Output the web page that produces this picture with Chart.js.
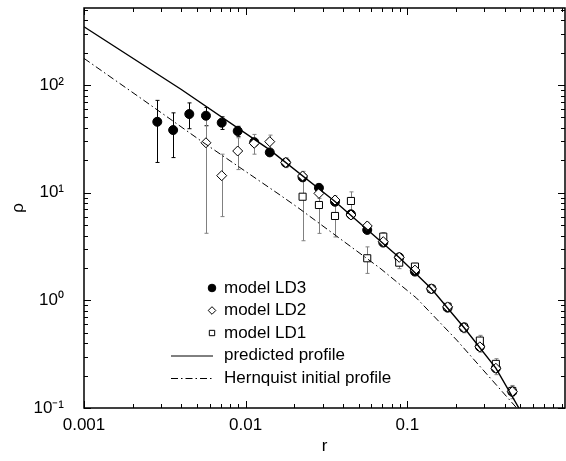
<!DOCTYPE html>
<html>
<head>
<meta charset="utf-8">
<title>rho(r) profiles</title>
<script src="https://cdn.jsdelivr.net/npm/chart.js@4.4.1/dist/chart.umd.min.js"></script>
<style>
	html, body { margin: 0; padding: 0; background: #fff; }
	#wrap { position: relative; width: 566px; height: 461px; }
</style>
</head>
<body>
<div id="wrap"><canvas id="chart"></canvas></div>
<script>
'use strict';

// values
const ld3R = [0.00284, 0.00356, 0.00448, 0.00568, 0.00711, 0.00893, 0.0113, 0.0141, 0.0177, 0.0225, 0.0284,
	0.0357, 0.0448, 0.0565, 0.0710, 0.0891, 0.1115, 0.141, 0.1775, 0.224, 0.281, 0.353, 0.446];
const ld3Rho = [45.6, 38.2, 53.8, 51.9, 44.7, 37.4, 29.5, 23.7, 19.0, 13.9, 11.1,
	8.24, 6.3, 4.51, 3.44, 2.51, 1.85, 1.28, 0.855, 0.558, 0.371, 0.234, 0.142];
const ld3Err = [26.5, 17, 14.5, 10, 6, 4, 2, 1.5, 1, 0.8, 0.6,
	0.4, 0.3, 0.2, 0.15, 0.1, 0.08, 0.05, 0.04, 0.03, 0.02, 0.015, 0.01];

const ld2R = [0.00568, 0.00711, 0.00893, 0.0113, 0.0141, 0.0177, 0.0225, 0.0284, 0.0357, 0.0448,
	0.0565, 0.0710, 0.0891, 0.1115, 0.141, 0.1775, 0.224, 0.281, 0.353, 0.446];
const ld2Rho = [29.1, 14.4, 24.4, 28.8, 29.8, 19.1, 14.3, 9.86, 8.55, 6.21,
	4.91, 3.51, 2.51, 1.91, 1.28, 0.87, 0.558, 0.37, 0.234, 0.142];
const ld2Err = [24.9, 8.4, 8, 6, 4.5, 2, 1.5, 1, 0.8, 0.5,
	0.4, 0.3, 0.2, 0.15, 0.1, 0.08, 0.05, 0.04, 0.03, 0.02];

const ld1R = [0.0225, 0.0284, 0.0357, 0.0448, 0.0565, 0.0710, 0.0891, 0.1115, 0.141, 0.1775,
	0.224, 0.281, 0.353, 0.446];
const ld1Rho = [9.18, 7.69, 6.08, 8.38, 2.46, 3.91, 2.24, 2.06, 1.28, 0.87,
	0.56, 0.423, 0.257, 0.144];
const ld1Err = [5.6, 3.5, 2.2, 1.8, 0.68, 0.35, 0.27, 0.15, 0.1, 0.08,
	0.06, 0.05, 0.03, 0.015];

const predictedR = [0.001, 0.004, 0.0141, 0.0357, 0.0891, 0.141, 0.224, 0.353, 0.49];
const predictedRho = [348, 91, 25, 8.3, 2.5, 1.28, 0.56, 0.235, 0.1];

const hernquistR = [0.001, 0.00233, 0.00521, 0.0163, 0.0207, 0.0678, 0.114, 0.202, 0.475];
const hernquistRho = [177, 72.6, 30.8, 9.53, 7.41, 1.99, 1.05, 0.428, 0.1];

const xTickLabels = {'-3': '0.001', '-2': '0.01', '-1': '0.1'};
const yTickLabels = {'-1': '10\u207B\u00B9', '0': '10\u2070', '1': '10\u00B9', '2': '10\u00B2'};

const FONT = '"Liberation Sans", Arial, Helvetica, sans-serif';
const ERR_GREY = '#808080';

const toPoints = function(xs, ys) {
	return xs.map((x, i) => ({x: x, y: ys[i]}));
};

// returns mantissa digit (1..9) for values like 3e-2, or 0 otherwise
const logDigit = function(v) {
	const e = Math.floor(Math.log10(v) + 1e-9);
	const m = v / Math.pow(10, e);
	const d = Math.round(m);
	return Math.abs(m - d) < 1e-6 && d >= 1 && d <= 9 ? d : 0;
};

// pin the plot box to where the reference has it
const fixArea = {
	id: 'fixArea',
	afterLayout(chart) {
		const a = chart.chartArea;
		const x = chart.scales.x;
		const y = chart.scales.y;
		a.left = 84;
		a.right = chart.width - 1;
		a.top = 8;
		a.bottom = 408;
		a.width = a.right - a.left;
		a.height = a.bottom - a.top;
		x.left = a.left;
		x.right = a.right;
		x.width = a.width;
		x.top = a.bottom;
		x.bottom = chart.height;
		x.height = x.bottom - x.top;
		y.top = a.top;
		y.bottom = a.bottom;
		y.height = a.height;
		y.left = 0;
		y.right = a.left;
		y.width = a.left;
		x.configure();
		y.configure();
	}
};

const errorBars = {
	id: 'errorBars',
	beforeDatasetsDraw(chart) {
		const ctx = chart.ctx;
		const yScale = chart.scales.y;
		const area = chart.chartArea;
		ctx.save();
		chart.data.datasets.forEach((ds, di) => {
			if (!ds.errors) {
				return;
			}
			const meta = chart.getDatasetMeta(di);
			ctx.strokeStyle = ds.errorColor;
			ctx.lineWidth = 1;
			meta.data.forEach((pt, i) => {
				const v = ds.data[i].y;
				const e = ds.errors[i];
				const yTop = Math.max(yScale.getPixelForValue(v + e), area.top);
				const yBot = v - e > 0 ? Math.min(yScale.getPixelForValue(v - e), area.bottom) : area.bottom;
				const x = Math.round(pt.x) + 0.5;
				ctx.beginPath();
				ctx.moveTo(x, yTop);
				ctx.lineTo(x, yBot);
				ctx.moveTo(x - 2, yTop);
				ctx.lineTo(x + 2, yTop);
				ctx.moveTo(x - 2, yBot);
				ctx.lineTo(x + 2, yBot);
				ctx.stroke();
			});
		});
		ctx.restore();
	}
};

const frameAndTicks = {
	id: 'frameAndTicks',
	afterDraw(chart) {
		const ctx = chart.ctx;
		const a = chart.chartArea;
		ctx.save();
		ctx.strokeStyle = '#000';
		ctx.lineWidth = 1;
		ctx.beginPath();
		chart.scales.x.ticks.forEach(t => {
			const d = logDigit(t.value);
			if (!d) {
				return;
			}
			const len = d === 1 ? 7 : 4;
			const x = Math.round(chart.scales.x.getPixelForValue(t.value)) + 0.5;
			ctx.moveTo(x, a.bottom);
			ctx.lineTo(x, a.bottom - len);
			ctx.moveTo(x, a.top);
			ctx.lineTo(x, a.top + len);
		});
		chart.scales.y.ticks.forEach(t => {
			const d = logDigit(t.value);
			if (!d) {
				return;
			}
			const len = d === 1 ? 7 : 4;
			const y = Math.round(chart.scales.y.getPixelForValue(t.value)) + 0.5;
			ctx.moveTo(a.left, y);
			ctx.lineTo(a.left + len, y);
			ctx.moveTo(a.right, y);
			ctx.lineTo(a.right - len, y);
		});
		ctx.stroke();
		ctx.lineWidth = 1.5;
		ctx.strokeRect(a.left, a.top, a.right - a.left, a.bottom - a.top);
		ctx.restore();
	}
};

const boxLegend = {
	id: 'boxLegend',
	afterDraw(chart) {
		const ctx = chart.ctx;
		const a = chart.chartArea;
		const markX = a.left + 128;
		const textX = a.left + 140;
		const rowY = a.top + 280;
		const rowH = 22.5;
		ctx.save();
		ctx.font = '17px ' + FONT;
		ctx.textBaseline = 'middle';
		ctx.textAlign = 'left';
		chart.data.datasets.forEach((ds, i) => {
			const y = rowY + ds.legendRow * rowH;
			ctx.fillStyle = '#000';
			ctx.fillText(ds.label, textX, y);
			if (ds.showLine) {
				ctx.strokeStyle = '#000';
				ctx.lineWidth = 1;
				ctx.setLineDash(ds.borderDash || []);
				ctx.beginPath();
				ctx.moveTo(a.left + 87, y + 0.5);
				ctx.lineTo(a.left + 129, y + 0.5);
				ctx.stroke();
				ctx.setLineDash([]);
			} else {
				ctx.fillStyle = ds.pointBackgroundColor;
				ctx.strokeStyle = '#000';
				ctx.lineWidth = 1;
				Chart.helpers.drawPoint(ctx, {pointStyle: ds.pointStyle, radius: 3.8, rotation: 0, borderWidth: 1}, markX, y);
			}
		});
		ctx.restore();
	}
};

const chart = new Chart(document.getElementById('chart'), {
	type: 'scatter',
	data: {
		datasets: [
			{
				label: 'predicted profile',
				data: toPoints(predictedR, predictedRho),
				showLine: true,
				borderColor: '#000',
				borderWidth: 1.4,
				pointRadius: 0,
				order: 0,
				legendRow: 3
			},
			{
				label: 'Hernquist initial profile',
				data: toPoints(hernquistR, hernquistRho),
				showLine: true,
				borderColor: '#000',
				borderWidth: 1,
				borderDash: [7, 3, 1.5, 3],
				pointRadius: 0,
				order: 0,
				legendRow: 4
			},
			{
				label: 'model LD3',
				data: toPoints(ld3R, ld3Rho),
				errors: ld3Err,
				errorColor: '#000',
				pointStyle: 'circle',
				pointRadius: 4.5,
				pointBackgroundColor: '#000',
				pointBorderColor: '#000',
				pointBorderWidth: 1,
				order: 3,
				legendRow: 0
			},
			{
				label: 'model LD2',
				data: toPoints(ld2R, ld2Rho),
				errors: ld2Err,
				errorColor: ERR_GREY,
				pointStyle: 'rectRot',
				pointRadius: 5,
				pointBackgroundColor: '#fff',
				pointBorderColor: '#000',
				pointBorderWidth: 1,
				order: 1,
				legendRow: 1
			},
			{
				label: 'model LD1',
				data: toPoints(ld1R, ld1Rho),
				errors: ld1Err,
				errorColor: ERR_GREY,
				pointStyle: 'rect',
				pointRadius: 5,
				pointBackgroundColor: '#fff',
				pointBorderColor: '#000',
				pointBorderWidth: 1,
				order: 2,
				legendRow: 2
			}
		]
	},
	options: {
		responsive: true,
		maintainAspectRatio: false,
		animation: false,
		layout: {padding: {top: 8, right: 1, left: 0, bottom: 0}},
		plugins: {
			legend: {display: false},
			tooltip: {enabled: false}
		},
		scales: {
			x: {
				type: 'logarithmic',
				min: 0.001,
				max: 0.945,
				grid: {display: false, drawTicks: false},
				border: {display: false},
				ticks: {
					autoSkip: false,
					maxRotation: 0,
					padding: 7,
					color: '#000',
					font: {family: FONT, size: 17},
					callback: (v) => {
						const k = Math.round(Math.log10(v));
						return Math.abs(Math.log10(v) - k) < 1e-6 && xTickLabels[k] ? xTickLabels[k] : '';
					}
				},
				title: {
					display: true,
					text: 'r',
					color: '#000',
					font: {family: FONT, size: 17},
					padding: {top: 0, bottom: 4}
				},
				afterFit: (scale) => {
					scale.height = 53;
					scale.paddingLeft = 0;
					scale.paddingRight = 0;
				}
			},
			y: {
				type: 'logarithmic',
				min: 0.1,
				max: 520,
				grid: {display: false, drawTicks: false},
				border: {display: false},
				ticks: {
					autoSkip: false,
					padding: 20,
					color: '#000',
					font: {family: FONT, size: 17},
					callback: (v) => {
						const k = Math.round(Math.log10(v));
						return Math.abs(Math.log10(v) - k) < 1e-6 && yTickLabels[k] ? yTickLabels[k] : '';
					}
				},
				title: {
					display: true,
					text: 'ρ',
					color: '#000',
					font: {family: FONT, size: 17},
					padding: {top: 8, bottom: 0}
				},
				afterFit: (scale) => {
					scale.width = 84;
					scale.paddingTop = 0;
					scale.paddingBottom = 0;
				}
			}
		}
	},
	plugins: [fixArea, errorBars, frameAndTicks, boxLegend]
});
</script>
</body>
</html>
